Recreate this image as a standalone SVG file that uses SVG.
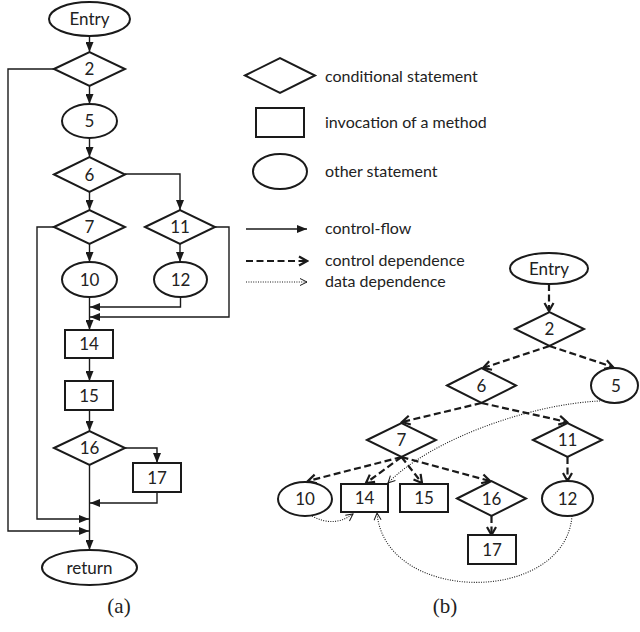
<svg xmlns="http://www.w3.org/2000/svg" width="640" height="632" viewBox="0 0 640 632">
  <style>
    .node { fill: #fff; stroke: #1a1a1a; stroke-width: 2; }
    .lbl { font-family: Lato, "Open Sans", sans-serif; font-size: 17px; fill: #222; text-anchor: middle; }
    .leg { font-family: Lato, "Open Sans", sans-serif; font-size: 16px; fill: #222; }
    .cap { font-family: "Liberation Serif", serif; font-size: 21px; fill: #222; text-anchor: middle; }
    .flow { fill: none; stroke: #1a1a1a; stroke-width: 1.4; marker-end: url(#flowHead); }
    .cdep { fill: none; stroke: #1a1a1a; stroke-width: 2.2; stroke-dasharray: 7 3.5; marker-end: url(#cdepHead); }
    .ddep { fill: none; stroke: #1a1a1a; stroke-width: 1.1; stroke-dasharray: 1 1.4; marker-end: url(#ddepHead); }
  </style>
  <defs>
    <marker id="flowHead" markerUnits="userSpaceOnUse" viewBox="0 0 10 8" refX="10" refY="4" markerWidth="10" markerHeight="8" orient="auto">
      <path d="M0,0 L10,4 L0,8 Z" fill="#1a1a1a"/>
    </marker>
    <marker id="cdepHead" markerUnits="userSpaceOnUse" viewBox="0 0 12 12" refX="10" refY="6" markerWidth="12" markerHeight="12" orient="auto">
      <path d="M2,1.5 L10,6 L2,10.5" fill="none" stroke="#1a1a1a" stroke-width="2.2"/>
    </marker>
    <marker id="ddepHead" markerUnits="userSpaceOnUse" viewBox="0 0 10 10" refX="9" refY="5" markerWidth="10" markerHeight="10" orient="auto">
      <path d="M2,1.5 L9,5 L2,8.5" fill="none" stroke="#1a1a1a" stroke-width="1"/>
    </marker>
  </defs>

  <rect width="640" height="632" fill="#fff"/>

  <!-- (a) control-flow graph: connectors -->
  <g id="cfg-edges">
    <path class="flow" d="M89.5 36 V52"/>
    <path class="flow" d="M89.5 86 V104"/>
    <path class="flow" d="M89.5 138 V157"/>
    <path class="flow" d="M89.5 192 V210"/>
    <path class="flow" d="M125 174 H180 V210"/>
    <path class="flow" d="M89.5 244 V262"/>
    <path class="flow" d="M180 244 V262"/>
    <path class="flow" d="M89.5 297 V330"/>
    <path class="flow" d="M180.5 297 V307 H90"/>
    <path class="flow" d="M215 227 H229 V317 H90"/>
    <path class="flow" d="M89.5 358 V381"/>
    <path class="flow" d="M89.5 410 V431"/>
    <path class="flow" d="M125 448 H157 V463"/>
    <path class="flow" d="M89.5 465 V550"/>
    <path class="flow" d="M157 492 V503 H90"/>
    <path class="flow" d="M54 227 H37 V519 H89"/>
    <path class="flow" d="M54 69 H8 V531 H89"/>
  </g>

  <!-- (a) control-flow graph: nodes -->
  <g id="a-entry"><ellipse class="node" cx="89.5" cy="19" rx="40.5" ry="17"/><text class="lbl" x="89.5" y="25">Entry</text></g>
  <g id="a-2"><polygon class="node" points="54,69 89.5,52 125,69 89.5,86"/><text class="lbl" x="89.5" y="75">2</text></g>
  <g id="a-5"><ellipse class="node" cx="89.5" cy="121" rx="27.5" ry="17"/><text class="lbl" x="89.5" y="127">5</text></g>
  <g id="a-6"><polygon class="node" points="54,174.5 89.5,157 125,174.5 89.5,192"/><text class="lbl" x="89.5" y="180.5">6</text></g>
  <g id="a-7"><polygon class="node" points="54,227 89.5,210 125,227 89.5,244"/><text class="lbl" x="89.5" y="233">7</text></g>
  <g id="a-11"><polygon class="node" points="145,227 180,210 215,227 180,244"/><text class="lbl" x="180" y="233">11</text></g>
  <g id="a-10"><ellipse class="node" cx="89.5" cy="279.5" rx="27.5" ry="17.5"/><text class="lbl" x="89.5" y="285.5">10</text></g>
  <g id="a-12"><ellipse class="node" cx="180.5" cy="279.5" rx="26.5" ry="17.5"/><text class="lbl" x="180.5" y="285.5">12</text></g>
  <g id="a-14"><rect class="node" x="65" y="330" width="48" height="28"/><text class="lbl" x="89" y="350">14</text></g>
  <g id="a-15"><rect class="node" x="65" y="381" width="48" height="29"/><text class="lbl" x="89" y="401.5">15</text></g>
  <g id="a-16"><polygon class="node" points="54,448 89.5,431 125,448 89.5,465"/><text class="lbl" x="89.5" y="454">16</text></g>
  <g id="a-17"><rect class="node" x="133" y="463" width="48" height="29"/><text class="lbl" x="157" y="483.5">17</text></g>
  <g id="a-return"><ellipse class="node" cx="89.5" cy="567.5" rx="47.5" ry="17.5"/><text class="lbl" x="89.5" y="573.5">return</text></g>

  <!-- legend -->
  <g id="legend">
    <polygon class="node" points="245,75.5 280,58 315,75.5 280,93"/>
    <text class="leg" x="325" y="82">conditional statement</text>
    <rect class="node" x="256" y="108" width="48" height="29"/>
    <text class="leg" x="325" y="128">invocation of a method</text>
    <ellipse class="node" cx="280" cy="171.5" rx="27" ry="17.5"/>
    <text class="leg" x="325" y="177">other statement</text>
    <path class="flow" d="M246 229 H307"/>
    <text class="leg" x="325" y="234">control-flow</text>
    <path class="cdep" d="M246 261 H307"/>
    <text class="leg" x="325" y="266">control dependence</text>
    <path class="ddep" d="M246 282 H307"/>
    <text class="leg" x="325" y="287">data dependence</text>
  </g>

  <!-- (b) dependence graph: connectors -->
  <g id="pdg-edges">
    <path class="cdep" d="M549 284 V311"/>
    <path class="cdep" d="M549.5 346 L483 368"/>
    <path class="cdep" d="M549.5 346 L613 367"/>
    <path class="cdep" d="M481.5 403 L402 422"/>
    <path class="cdep" d="M481.5 403 L567 422"/>
    <path class="cdep" d="M401.5 457 L308 481"/>
    <path class="cdep" d="M401.5 457 L366 483"/>
    <path class="cdep" d="M401.5 457 L422 483"/>
    <path class="cdep" d="M401.5 457 L490 481"/>
    <path class="cdep" d="M567.5 457 V481"/>
    <path class="cdep" d="M491.5 516 V535"/>
    <path class="ddep" d="M600 401 C530 404 430 440 388 483"/>
    <path class="ddep" d="M312 516 Q334 528 353 514"/>
    <path class="ddep" d="M572 516 C565 605 385 605 377 513"/>
  </g>

  <!-- (b) dependence graph: nodes -->
  <g id="b-entry"><ellipse class="node" cx="549" cy="268.5" rx="39" ry="15.5"/><text class="lbl" x="549" y="274.5">Entry</text></g>
  <g id="b-2"><polygon class="node" points="515,329 549.5,312 584,329 549.5,346"/><text class="lbl" x="549.5" y="335">2</text></g>
  <g id="b-6"><polygon class="node" points="447,385.5 481.5,368 516,385.5 481.5,403"/><text class="lbl" x="481.5" y="391.5">6</text></g>
  <g id="b-5"><ellipse class="node" cx="614.5" cy="385.5" rx="23.5" ry="17.5"/><text class="lbl" x="616" y="391.5">5</text></g>
  <g id="b-7"><polygon class="node" points="367,440 401.5,423 436,440 401.5,457"/><text class="lbl" x="401.5" y="446">7</text></g>
  <g id="b-11"><polygon class="node" points="533,440 567.5,423 602,440 567.5,457"/><text class="lbl" x="567.5" y="446">11</text></g>
  <g id="b-10"><ellipse class="node" cx="305" cy="499" rx="27" ry="17"/><text class="lbl" x="305" y="505">10</text></g>
  <g id="b-14"><rect class="node" x="341" y="484" width="47" height="28"/><text class="lbl" x="364.5" y="504">14</text></g>
  <g id="b-15"><rect class="node" x="400" y="484" width="48" height="28"/><text class="lbl" x="424" y="504">15</text></g>
  <g id="b-16"><polygon class="node" points="457,498.5 491.5,481 526,498.5 491.5,516"/><text class="lbl" x="491.5" y="504.5">16</text></g>
  <g id="b-12"><ellipse class="node" cx="567.5" cy="498.5" rx="25.5" ry="17.5"/><text class="lbl" x="567.5" y="504.5">12</text></g>
  <g id="b-17"><rect class="node" x="468" y="535" width="48" height="29"/><text class="lbl" x="492" y="555.5">17</text></g>

  <!-- captions -->
  <text class="cap" x="119" y="613">(a)</text>
  <text class="cap" x="445" y="613">(b)</text>
</svg>
